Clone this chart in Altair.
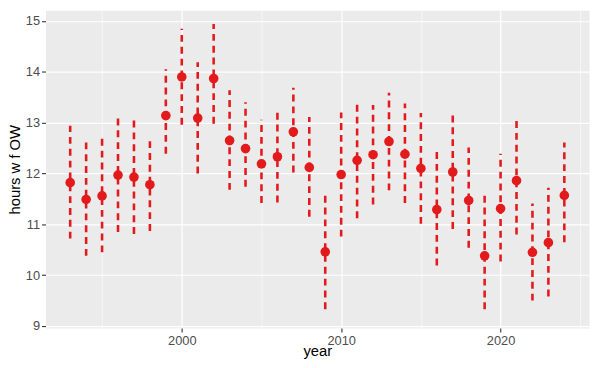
import altair as alt
import pandas as pd

years = list(range(1993, 2025))
means = [11.82, 11.49, 11.56, 11.97, 11.93, 11.78, 13.14, 13.90, 13.09, 13.87,
         12.65, 12.49, 12.19, 12.33, 12.82, 12.12, 10.46, 11.98, 12.26, 12.37,
         12.63, 12.38, 12.10, 11.29, 12.03, 11.47, 10.38, 11.31, 11.86, 10.45,
         10.64, 11.57]
uppers = [12.94, 12.62, 12.70, 13.11, 13.07, 12.72, 14.05, 14.85, 14.19, 14.94,
          13.64, 13.40, 13.06, 13.24, 13.69, 13.11, 11.58, 13.20, 13.39, 13.35,
          13.59, 13.38, 13.19, 12.47, 13.17, 12.51, 11.58, 12.39, 13.06, 11.41,
          11.72, 12.61]
lowers = [10.72, 10.38, 10.45, 10.85, 10.81, 10.87, 12.39, 12.96, 12.00, 12.98,
          11.68, 11.74, 11.42, 11.43, 12.02, 11.15, 9.33, 10.76, 11.12, 11.39,
          11.67, 11.42, 11.01, 10.19, 10.91, 10.54, 9.33, 10.27, 10.80, 9.50,
          9.58, 10.65]

x_ticks = [1995, 2000, 2005, 2010, 2015, 2020, 2025]
y_ticks = [9, 9.5, 10, 10.5, 11, 11.5, 12, 12.5, 13, 13.5, 14, 14.5, 15]

df = pd.DataFrame({"year": years, "mean": means, "upper": uppers, "lower": lowers})

RED = "#E31A1C"
FONT = "Liberation Sans"

x_enc = alt.X(
    "year:Q",
    scale=alt.Scale(domain=[1991.45, 2025.55], nice=False, zero=False),
    axis=alt.Axis(
        values=x_ticks, format="d", title="year",
        labelExpr="datum.value % 10 === 0 ? datum.label : ''",
        gridWidth={"condition": {"test": "datum.value % 10 !== 0", "value": 0.6}, "value": 1.2},
        tickOpacity={"condition": {"test": "datum.value % 10 !== 0", "value": 0}, "value": 1},
        titleY=28, titleBaseline="alphabetic", labelPadding=3,
    ),
)
y_scale = alt.Scale(domain=[8.96, 15.21], nice=False, zero=False)
y_axis = alt.Axis(
    values=y_ticks, title="hours w f OW", format="d",
    labelExpr="datum.value % 1 === 0 ? datum.label : ''",
    gridWidth={"condition": {"test": "datum.value % 1 !== 0", "value": 0.6}, "value": 1.2},
    tickOpacity={"condition": {"test": "datum.value % 1 !== 0", "value": 0}, "value": 1},
    titleX=-31, titleY=161, titleBaseline="middle", titleAlign="center",
)

bars = alt.Chart(df).mark_rule(color=RED, strokeWidth=2.6, strokeDash=[7, 5]).encode(
    x=x_enc,
    y=alt.Y("lower:Q", scale=y_scale, axis=y_axis),
    y2="upper:Q",
)
points = alt.Chart(df).mark_circle(color=RED, size=95, opacity=1).encode(
    x="year:Q",
    y="mean:Q",
)

chart = alt.layer(bars, points).properties(
    width=551, height=322,
    autosize=alt.AutoSizeParams(type="none"),
    padding={"left": 38, "top": 0, "right": 3, "bottom": 30},
).configure_view(
    fill="#EBEBEB", strokeOpacity=0,
).configure_axis(
    domain=False, grid=True, gridColor="#FFFFFF",
    tickColor="#333333", tickSize=4, tickWidth=1.1,
    labelColor="#4D4D4D", labelFont=FONT, labelFontSize=13, labelPadding=2,
    titleColor="#000000", titleFont=FONT, titleFontSize=15, titleFontWeight="normal",
)

chart.save("out.html", embed_options={"renderer": "svg", "actions": False})
